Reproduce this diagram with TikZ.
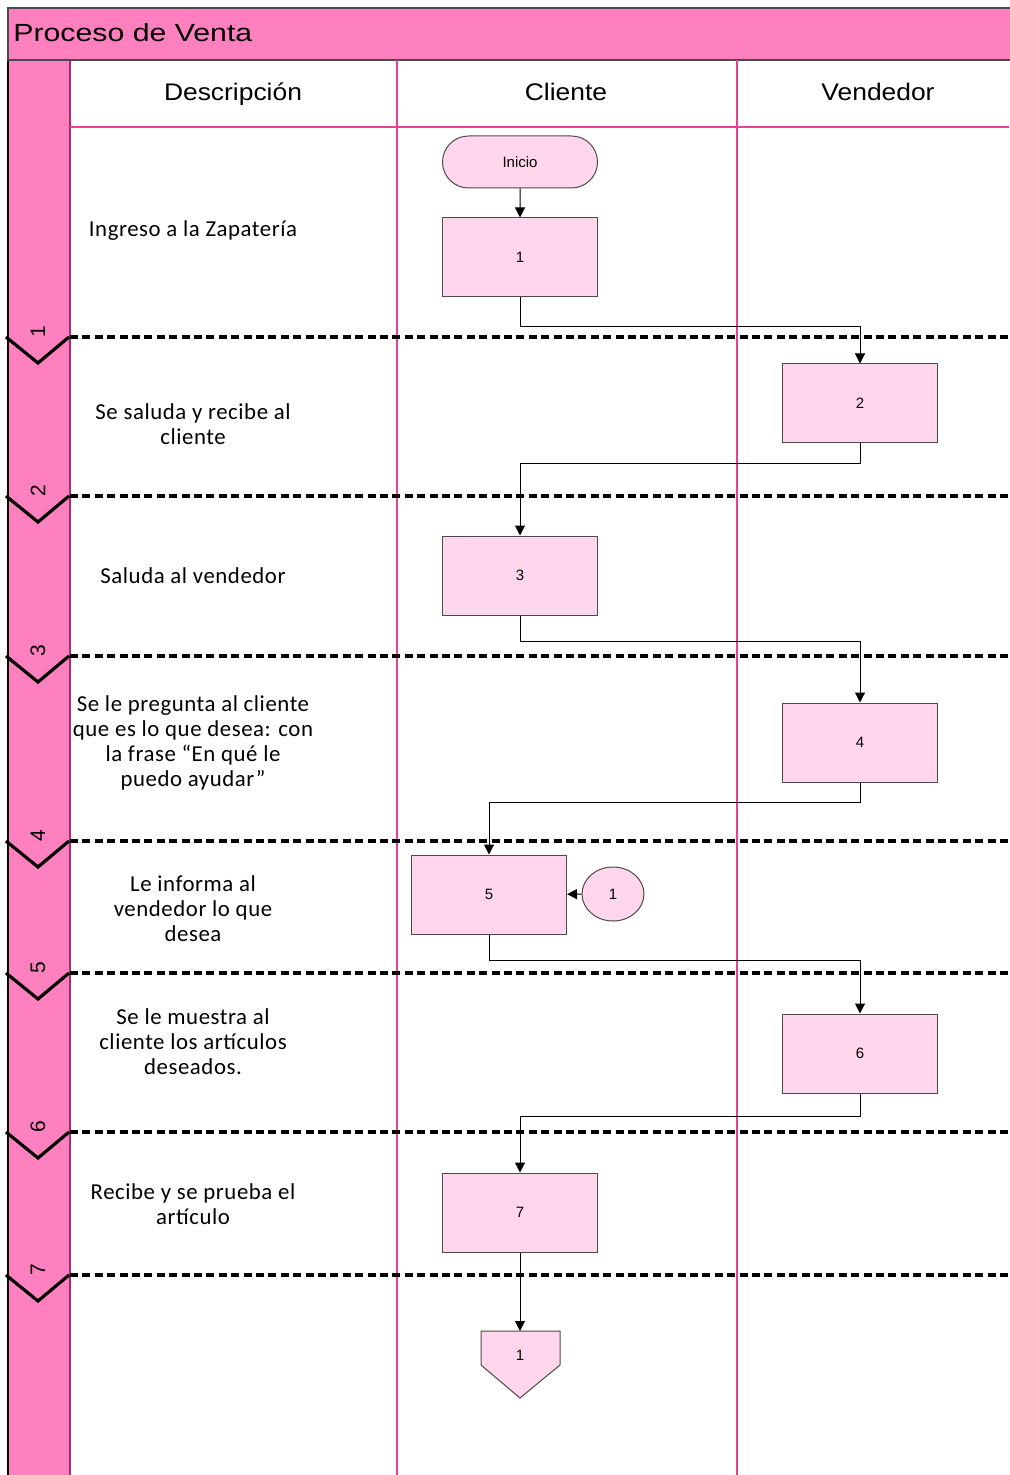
\documentclass[tikz,border=0pt]{standalone}
\usepackage{fontspec}
\setmainfont{Liberation Sans}
\newfontfamily\titlefont[FakeStretch=1.22]{Liberation Sans}
\newfontfamily\headfont[FakeStretch=1.1]{Liberation Sans}
\newfontfamily\descfont[LetterSpace=2.5]{Carlito}
\usetikzlibrary{arrows.meta,shapes.geometric,shapes.misc}

\definecolor{bandpink}{HTML}{FF80BF}
\definecolor{boxpink}{HTML}{FFD6EB}
\definecolor{lanemag}{HTML}{E8409A}
\definecolor{framegray}{HTML}{4A4A4A}

\tikzset{
	proc/.style={draw=framegray, line width=0.5pt, fill=boxpink, minimum width=77.5pt, minimum height=39.5pt, inner sep=0pt, font=\fontsize{7.5}{9}\selectfont},
	term/.style={proc, rounded rectangle, minimum height=26pt},
	conn/.style={proc, ellipse, minimum width=31pt, minimum height=27pt},
	flow/.style={line width=0.5pt, -{Triangle[length=5pt, width=5pt]}},
	lanesep/.style={line width=1.6pt, dash pattern=on 4pt off 2.2pt},
	chev/.style={line width=1.6pt, line join=miter},
	lane/.style={lanemag, line width=0.6pt},
	desc/.style={align=center, font=\descfont\fontsize{11.4}{12.5}\selectfont},
	head/.style={anchor=base, font=\headfont\fontsize{12}{14}\selectfont}
}

\begin{document}
\begin{tikzpicture}[x=0.5pt, y=-0.5pt]
			%%%%% START %%%%%
			\useasboundingbox (0,0) rectangle (1009,1475);
			
			% title band and left band
			\fill[bandpink] (8,60) rectangle (70,1480);
			\draw[line width=1.2pt] (8,60) -- (8,1480);
			\draw[lanemag!70!black, line width=0.6pt] (70,60) -- (70,1480);
			\draw[fill=bandpink, draw=framegray, line width=0.6pt] (8,8) rectangle (1015,60);
			\node[anchor=base west, inner sep=0pt, font=\titlefont\fontsize{12.4}{14}\selectfont] (title) at (13,42) {Proceso de Venta};
			
			% lanes
			\draw[lane] (70,127) -- (1009,127);
			\draw[lane] (397,60) -- (397,1480);
			\draw[lane] (737,60) -- (737,1480);
			\node[head] (hdesc) at (233,101) {Descripción};
			\node[head] (hcli) at (566,101) {Cliente};
			\node[head] (hven) at (878,101) {Vendedor};
			
			% steps
			\foreach \y/\n in {337/1,496/2,656/3,841/4,973/5,1132/6,1275/7}{
				\draw[lanesep] (70,\y) -- (1012,\y);
				\draw[chev] (6,\y) -- (38,\y+26) -- (69,\y);
				\node[rotate=90, font=\fontsize{10.5}{12}\selectfont] at (38,\y-5) {\n};
			}
			
			\node[desc] (d1) at (193,231) {Ingreso a la Zapatería};
			\node[desc] (d2) at (193,424) {Se saluda y recibe al\\cliente};
			\node[desc] (d3) at (193,576) {Saluda al vendedor};
			\node[desc] (d4) at (193,743) {Se le pregunta al cliente\\que es lo que desea: con\\la frase “En qué le\\puedo ayudar”};
			\node[desc] (d5) at (193,909) {Le informa al\\vendedor lo que\\desea};
			\node[desc] (d6) at (193,1042) {Se le muestra al\\cliente los artículos\\deseados.};
			\node[desc] (d7) at (193,1204) {Recibe y se prueba el\\artículo};
			
			% flow
			\node[term] (inicio) at (520,162) {Inicio};
			\node[proc] (p1) at (520,257.5) {1};
			\node[proc] (p2) at (860,403.5) {2};
			\node[proc] (p3) at (520,575.5) {3};
			\node[proc] (p4) at (860,742.5) {4};
			\node[proc] (p5) at (489,894.5) {5};
			\node[conn] (c1) at (613,894) {1};
			\node[proc] (p6) at (860,1053.5) {6};
			\node[proc] (p7) at (520,1212.5) {7};
			
			\draw[draw=framegray, fill=boxpink, line width=0.5pt] (481,1331) -- (560,1331) -- (560,1365) -- (520,1398) -- (481,1365) -- cycle;
			\coordinate (offtop) at (520,1331);
			\node[font=\fontsize{7.5}{9}\selectfont] (off) at (520,1355) {1};
			
			\draw[flow] (inicio) -- (p1);
			\draw[flow] (p1.south) -- ++(0,29) -| (p2.north);
			\draw[flow] (p2.south) -- ++(0,20) -| (p3.north);
			\draw[flow] (p3.south) -- ++(0,26) -| (p4.north);
			\draw[flow] (p4.south) -- ++(0,20) -| (p5.north);
			\draw[flow] (p5.south) -- ++(0,26) -| (p6.north);
			\draw[flow] (p6.south) -- ++(0,23) -| (p7.north);
			\draw[flow] (p7) -- (offtop);
			\draw[flow] (c1) -- (p5);
			
			%%%%% END %%%%%
\end{tikzpicture}
\end{document}
